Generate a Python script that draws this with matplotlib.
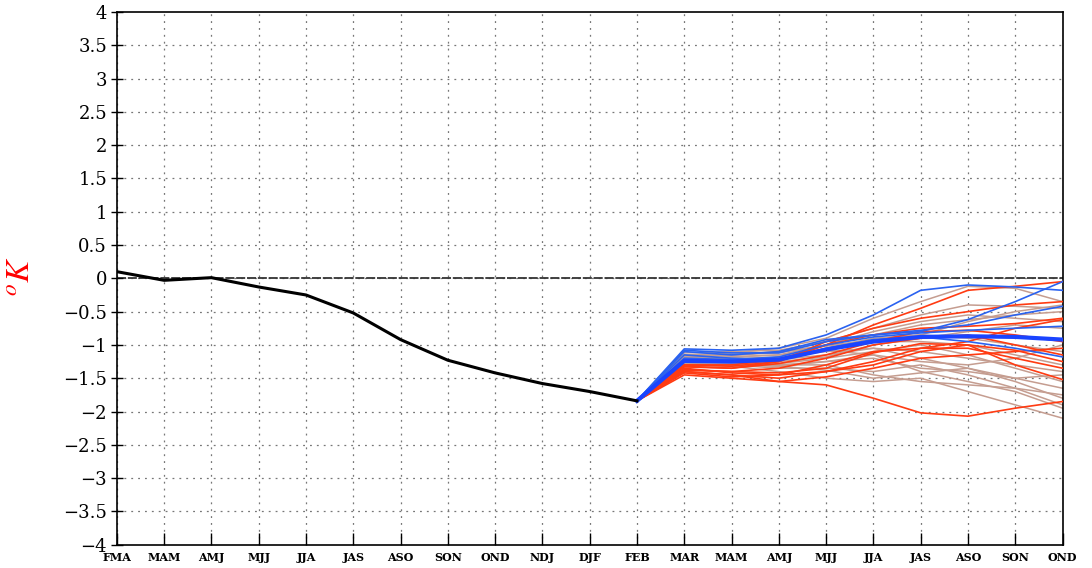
import matplotlib
matplotlib.use("Agg")
import matplotlib.pyplot as plt
import numpy as np

plt.rcParams['mathtext.fontset'] = 'stix'

# x-axis seasons (observed part up to FEB, forecast part after)
seasons = ['FMA', 'MAM', 'AMJ', 'MJJ', 'JJA', 'JAS', 'ASO', 'SON', 'OND', 'NDJ',
           'DJF', 'FEB', 'MAR', 'MAM', 'AMJ', 'MJJ', 'JJA', 'JAS', 'ASO', 'SON', 'OND']

# observed anomaly (FMA .. FEB)
obs = [0.10, -0.03, 0.01, -0.13, -0.25, -0.52, -0.92, -1.23, -1.42, -1.58, -1.70, -1.84]

# forecast members, FEB .. OND
tan_members = [
    [-1.84, -1.15, -1.12, -1.05, -0.90, -0.60, -0.35, -0.12, -0.15, -0.35],
    [-1.84, -1.18, -1.15, -1.10, -0.95, -0.75, -0.55, -0.40, -0.42, -0.45],
    [-1.84, -1.20, -1.18, -1.15, -1.00, -0.80, -0.65, -0.55, -0.60, -0.65],
    [-1.84, -1.22, -1.20, -1.20, -1.05, -0.90, -0.85, -0.90, -1.00, -1.10],
    [-1.84, -1.25, -1.25, -1.28, -1.20, -1.10, -1.00, -1.15, -1.35, -1.55],
    [-1.84, -1.28, -1.30, -1.35, -1.35, -1.40, -1.30, -1.45, -1.65, -1.90],
    [-1.84, -1.30, -1.32, -1.40, -1.50, -1.55, -1.50, -1.70, -1.90, -2.10],
    [-1.84, -1.22, -1.25, -1.30, -1.30, -1.45, -1.55, -1.60, -1.65, -1.75],
    [-1.84, -1.18, -1.20, -1.22, -1.15, -1.05, -1.20, -1.35, -1.50, -1.65],
    [-1.84, -1.15, -1.15, -1.12, -1.00, -0.95, -0.95, -1.00, -1.15, -1.30],
    [-1.84, -1.12, -1.10, -1.08, -0.95, -0.85, -0.70, -0.62, -0.55, -0.50],
    [-1.84, -1.25, -1.28, -1.30, -1.25, -1.15, -1.25, -1.30, -1.20, -1.00],
    [-1.84, -1.20, -1.22, -1.25, -1.18, -1.00, -0.90, -0.80, -0.70, -0.75],
    [-1.84, -1.28, -1.30, -1.32, -1.25, -1.20, -1.35, -1.40, -1.50, -1.45],
    [-1.84, -1.17, -1.16, -1.10, -1.02, -0.92, -0.85, -0.65, -0.50, -0.40],
    [-1.84, -1.24, -1.22, -1.18, -1.10, -1.05, -1.10, -1.20, -1.30, -1.40],
    [-1.84, -1.26, -1.27, -1.32, -1.38, -1.50, -1.42, -1.35, -1.55, -1.80],
    [-1.84, -1.19, -1.18, -1.15, -1.08, -1.15, -1.40, -1.55, -1.70, -1.95],
]
red_members = [
    [-1.84, -1.40, -1.45, -1.55, -1.60, -1.80, -2.02, -2.07, -1.95, -1.85],
    [-1.84, -1.33, -1.35, -1.25, -1.00, -0.70, -0.45, -0.18, -0.12, -0.05],
    [-1.84, -1.30, -1.32, -1.25, -0.95, -0.75, -0.60, -0.50, -0.40, -0.35],
    [-1.84, -1.38, -1.40, -1.35, -1.20, -1.00, -0.90, -0.85, -1.00, -1.15],
    [-1.84, -1.42, -1.48, -1.45, -1.30, -1.10, -1.05, -1.05, -1.20, -1.35],
    [-1.84, -1.45, -1.50, -1.55, -1.48, -1.35, -1.20, -1.15, -1.10, -1.05],
    [-1.84, -1.35, -1.42, -1.45, -1.40, -1.25, -1.05, -0.95, -0.75, -0.62],
    [-1.84, -1.32, -1.35, -1.28, -1.15, -0.95, -0.80, -0.78, -0.85, -0.95],
    [-1.84, -1.40, -1.45, -1.50, -1.40, -1.30, -1.10, -1.00, -1.30, -1.52],
    [-1.84, -1.30, -1.30, -1.22, -1.00, -0.85, -0.75, -0.72, -0.68, -0.60],
    [-1.84, -1.37, -1.40, -1.42, -1.35, -1.12, -0.98, -1.00, -1.08, -1.25],
]
blue_members = [
    [-1.84, -1.06, -1.08, -1.05, -0.85, -0.55, -0.18, -0.10, -0.13, -0.18],
    [-1.84, -1.08, -1.12, -1.12, -0.95, -0.85, -0.80, -0.62, -0.35, -0.05],
    [-1.84, -1.10, -1.15, -1.10, -0.92, -0.85, -0.78, -0.70, -0.55, -0.42],
    [-1.84, -1.15, -1.20, -1.22, -1.05, -0.92, -0.88, -0.95, -1.05, -1.18],
    [-1.84, -1.20, -1.22, -1.18, -1.00, -0.88, -0.82, -0.78, -0.75, -0.72],
]
ens_mean = [-1.84, -1.24, -1.25, -1.22, -1.07, -0.95, -0.88, -0.87, -0.88, -0.92]

x_obs = np.arange(len(obs))
x_fc = np.arange(len(obs) - 1, len(seasons))

fig = plt.figure(figsize=(10.92, 5.68), dpi=100)
ax = fig.add_axes([0.107, 0.041, 0.866, 0.938])

# grid
for xv in range(len(seasons)):
    ax.axvline(xv, color='#777777', lw=0.9, ls=(0, (1.5, 4)), zorder=0)
for yv in np.arange(-3.5, 4.0, 0.5):
    ax.axhline(yv, color='#777777', lw=0.9, ls=(0, (1.5, 4)), zorder=0)
ax.axhline(0, color='#333333', lw=1.3, ls=(0, (5, 1)), zorder=1)

for m in tan_members:
    ax.plot(x_fc, m, color='#c59d90', lw=1.1, zorder=2)
for m in red_members:
    ax.plot(x_fc, m, color='#ff3b12', lw=1.2, zorder=3)
for m in blue_members:
    ax.plot(x_fc, m, color='#2a62f0', lw=1.2, zorder=4)
ax.plot(x_fc, ens_mean, color='#1a44ff', lw=3.0, zorder=5)

ax.plot(x_obs, obs, color='black', lw=2.2, zorder=6)

ax.set_xlim(0, len(seasons) - 1)
ax.set_ylim(-4, 4)
ax.set_xticks(range(len(seasons)))
ax.set_xticklabels(seasons, fontsize=8, fontweight='bold', family='DejaVu Serif')
yt = np.arange(-4, 4.01, 0.5)
ax.set_yticks(yt)
ax.set_yticklabels([('%g' % v).replace('-', '\u2212') for v in yt], fontsize=13,
                   family='DejaVu Serif')
ax.tick_params(axis='x', direction='in', length=9, width=1, pad=5)
ax.tick_params(axis='y', direction='inout', length=8, width=1, pad=3)

for s in ax.spines.values():
    s.set_linestyle((0, (5, 1)))
    s.set_linewidth(1.2)

ax.set_ylabel(r'$^oK$', color='red', fontsize=24)
ax.yaxis.set_label_coords(-0.084, 0.505)

fig.savefig('out.png', dpi=100)
